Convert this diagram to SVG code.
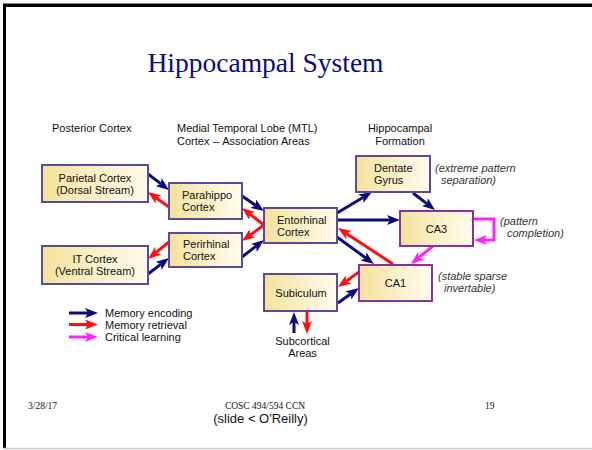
<svg xmlns="http://www.w3.org/2000/svg" width="592" height="450" viewBox="0 0 592 450">
<style>
.t{font-family:"Liberation Sans",Arial,sans-serif;font-size:11px;fill:#111}
.c{text-anchor:middle}
.it{font-family:"Liberation Sans",Arial,sans-serif;font-size:11px;font-style:italic;fill:#333}
.ft{font-family:"Liberation Serif","Times New Roman",serif;font-size:9.5px;fill:#111}
.box{fill:url(#g);stroke:#5a4b99;stroke-width:2}
.boxm{fill:url(#g);stroke:#8e2f96;stroke-width:2}
.b{stroke:#0b0b7e;stroke-width:3;fill:none;marker-end:url(#ab)}
.r{stroke:#ff1010;stroke-width:3;fill:none;marker-end:url(#ar)}
.m{stroke:#ff22ff;stroke-width:3;fill:none;marker-end:url(#am)}
</style>
<defs>
<linearGradient id="g" x1="0" y1="0" x2="1" y2="0">
<stop offset="0" stop-color="#f4e29c"/>
<stop offset="1" stop-color="#fffcef"/>
</linearGradient>
<marker id="ab" markerUnits="userSpaceOnUse" markerWidth="13" markerHeight="10" refX="3" refY="5" orient="auto"><path d="M0,0 L13,5 L0,10 L3,5 z" fill="#0b0b7e"/></marker>
<marker id="ar" markerUnits="userSpaceOnUse" markerWidth="13" markerHeight="10" refX="3" refY="5" orient="auto"><path d="M0,0 L13,5 L0,10 L3,5 z" fill="#ff1010"/></marker>
<marker id="am" markerUnits="userSpaceOnUse" markerWidth="13" markerHeight="10" refX="3" refY="5" orient="auto"><path d="M0,0 L13,5 L0,10 L3,5 z" fill="#ff22ff"/></marker>
</defs>
<rect width="592" height="450" fill="#fff"/>
<line x1="3" y1="3.5" x2="592" y2="3.5" stroke="#888" stroke-width="1"/>
<line x1="3" y1="5.5" x2="592" y2="5.5" stroke="#000" stroke-width="3"/>
<line x1="4.5" y1="4" x2="4.5" y2="448" stroke="#000" stroke-width="3"/>
<line x1="3" y1="448.5" x2="592" y2="448.5" stroke="#ccc" stroke-width="1.5"/>

<text x="265.5" y="72" text-anchor="middle" font-family="'Liberation Serif','Times New Roman',serif" font-size="27.5" fill="#0a0a80">Hippocampal System</text>

<text class="t" x="52" y="131.5">Posterior Cortex</text>
<text class="t" x="177" y="131.5">Medial Temporal Lobe (MTL)</text>
<text class="t" x="177" y="144.5">Cortex -- Association Areas</text>
<text class="t c" x="400" y="131.5">Hippocampal</text>
<text class="t c" x="400" y="144.5">Formation</text>

<g id="connectors">
<line class="b" x1="148" y1="174" x2="161" y2="183.9"/>
<line class="r" x1="169" y1="207" x2="156" y2="197.8"/>
<line class="b" x1="242" y1="196" x2="255.8" y2="205.4"/>
<line class="r" x1="264" y1="225" x2="249.9" y2="214.1"/>
<line class="r" x1="264" y1="225" x2="250.1" y2="235.1"/>
<line class="b" x1="242" y1="257" x2="256.1" y2="246.1"/>
<line class="r" x1="169" y1="242" x2="155.8" y2="252.7"/>
<line class="b" x1="148" y1="274" x2="161" y2="264.1"/>
<line class="b" x1="337" y1="213" x2="363.4" y2="197.2"/>
<line class="b" x1="413" y1="193" x2="427.1" y2="203.9"/>
<line class="b" x1="337" y1="220" x2="390" y2="220"/>
<line class="b" x1="337" y1="237" x2="365.9" y2="258.1"/>
<line class="r" x1="393" y1="264" x2="346.4" y2="233.5"/>
<line class="m" x1="433" y1="246" x2="418.7" y2="257.7"/>
<path class="m" d="M473,219 H494 V240 H484"/>
<line class="r" x1="359" y1="272" x2="346.1" y2="281.2"/>
<line class="b" x1="338" y1="303" x2="350.9" y2="293.8"/>
<line class="b" x1="294" y1="333" x2="294" y2="322"/>
<line class="r" x1="307" y1="312" x2="307" y2="324"/>
</g>

<g id="parietal">
<rect class="box" x="42" y="165" width="106" height="37"/>
<text class="t c" x="95" y="181.5">Parietal Cortex</text>
<text class="t c" x="95" y="193.5">(Dorsal Stream)</text>
</g>
<g id="it">
<rect class="box" x="42" y="246" width="106" height="38"/>
<text class="t c" x="95" y="263">IT Cortex</text>
<text class="t c" x="95" y="275">(Ventral Stream)</text>
</g>
<g id="parahippo">
<rect class="box" x="169" y="183" width="73" height="36"/>
<text class="t" x="182" y="199">Parahippo</text>
<text class="t" x="182" y="211">Cortex</text>
</g>
<g id="perirhinal">
<rect class="box" x="169" y="233" width="73" height="34"/>
<text class="t" x="183" y="248">Perirhinal</text>
<text class="t" x="183" y="260">Cortex</text>
</g>
<g id="entorhinal">
<rect class="box" x="264" y="208" width="73" height="35"/>
<text class="t" x="277" y="223.5">Entorhinal</text>
<text class="t" x="277" y="235.5">Cortex</text>
</g>
<g id="dentate">
<rect class="box" x="356" y="156" width="74" height="36"/>
<text class="t" x="374" y="171.5">Dentate</text>
<text class="t" x="374" y="183.5">Gyrus</text>
</g>
<g id="ca3">
<rect class="boxm" x="400" y="211" width="73" height="35"/>
<text class="t c" x="436.5" y="232.5">CA3</text>
</g>
<g id="ca1">
<rect class="boxm" x="359" y="265" width="73" height="36"/>
<text class="t c" x="395.5" y="287">CA1</text>
</g>
<g id="subiculum">
<rect class="box" x="264" y="274" width="73" height="37"/>
<text class="t c" x="301" y="296.5">Subiculum</text>
</g>
<g id="subcortical">
<text class="t c" x="302.5" y="344.5">Subcortical</text>
<text class="t c" x="302.5" y="356.5">Areas</text>
</g>

<text class="it" x="435" y="172">(extreme pattern</text>
<text class="it" x="441" y="184">separation)</text>
<text class="it" x="500" y="225">(pattern</text>
<text class="it" x="507" y="237">completion)</text>
<text class="it" x="438" y="280">(stable sparse</text>
<text class="it" x="444" y="292">invertable)</text>

<g id="legend">
<line class="b" x1="69" y1="313" x2="88" y2="313"/>
<line class="r" x1="69" y1="324.5" x2="88" y2="324.5"/>
<line class="m" x1="69" y1="337" x2="88" y2="337"/>
<text class="t" x="105" y="316.5">Memory encoding</text>
<text class="t" x="105" y="328.5">Memory retrieval</text>
<text class="t" x="105" y="340.5">Critical learning</text>
</g>

<text class="ft" x="28" y="409">3/28/17</text>
<text class="ft c" x="265" y="409">COSC 494/594 CCN</text>
<text class="ft" x="485" y="409">19</text>
<text x="260.5" y="423" text-anchor="middle" font-family="'Liberation Sans',Arial,sans-serif" font-size="13" fill="#111">(slide &lt; O'Reilly)</text>
</svg>
